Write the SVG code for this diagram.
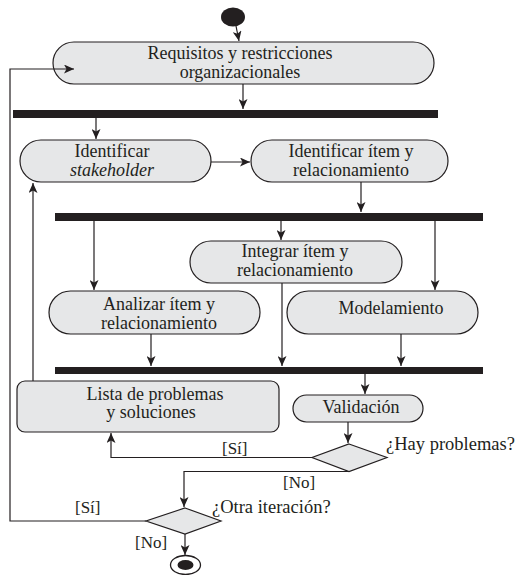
<svg xmlns="http://www.w3.org/2000/svg" width="517" height="575" viewBox="0 0 517 575">
<defs>
<marker id="ah" markerWidth="11" markerHeight="9" refX="10" refY="4.5" orient="auto" markerUnits="userSpaceOnUse">
<path d="M0,0 L10,4.5 L0,9 L2.5,4.5 z" fill="#231f20"/>
</marker>
</defs>
<style>
.node{fill:#e6e7e8;stroke:#231f20;stroke-width:1.2}
.bar{fill:#231f20}
.t{font-family:"Liberation Serif","Times New Roman",serif;font-size:18px;fill:#231f20;text-anchor:middle}
.q{font-family:"Liberation Serif","Times New Roman",serif;font-size:18.5px;fill:#231f20}
.l{font-family:"Liberation Serif","Times New Roman",serif;font-size:17px;fill:#231f20}
.c{fill:none;stroke:#231f20;stroke-width:1.2;marker-end:url(#ah)}
</style>
<rect width="517" height="575" fill="#ffffff"/>
<g id="start"><ellipse cx="233" cy="17" rx="12" ry="9.5" fill="#231f20"/></g>
<g id="n1"><rect class="node" x="53" y="42" width="381" height="42" rx="21"/><text class="t" x="240" y="59">Requisitos y restricciones</text><text class="t" x="240" y="77.5">organizacionales</text></g>
<g id="bar1"><rect class="bar" x="13" y="110" width="425" height="8"/></g>
<g id="n2"><rect class="node" x="20" y="140" width="191" height="42" rx="21"/><text class="t" x="112" y="157">Identificar</text><text class="t" x="112" y="175.5" font-style="italic">stakeholder</text></g>
<g id="n3"><rect class="node" x="251" y="140" width="197" height="42" rx="21"/><text class="t" x="351" y="157">Identificar ítem y</text><text class="t" x="351" y="175.5">relacionamiento</text></g>
<g id="bar2"><rect class="bar" x="55" y="213" width="428" height="8"/></g>
<g id="n4"><rect class="node" x="190" y="241" width="212" height="42" rx="21"/><text class="t" x="295" y="257">Integrar ítem y</text><text class="t" x="295" y="275.5">relacionamiento</text></g>
<g id="n5"><rect class="node" x="49" y="291" width="211" height="43" rx="21.5"/><text class="t" x="159" y="310">Analizar ítem y</text><text class="t" x="159" y="328.5">relacionamiento</text></g>
<g id="n6"><rect class="node" x="287" y="291" width="191" height="43" rx="21.5"/><text class="t" x="391" y="314">Modelamiento</text></g>
<g id="bar3"><rect class="bar" x="55" y="367" width="428" height="7"/></g>
<g id="n7"><rect class="node" x="293" y="395" width="130" height="27" rx="13.5"/><text class="t" x="361" y="413">Validación</text></g>
<g id="n8"><rect class="node" x="17" y="381" width="262" height="51" rx="8"/><text class="t" x="155" y="399.5">Lista de problemas</text><text class="t" x="151" y="418">y soluciones</text></g>
<g id="d1"><polygon class="node" points="349,444 387,457.5 349,471.5 312,457.5"/><text class="q" x="386" y="450">¿Hay problemas?</text></g>
<g id="d2"><polygon class="node" points="185,508 221,521 185,534 146,521"/><text class="q" x="212" y="513">¿Otra iteración?</text></g>
<g id="end"><ellipse cx="185.5" cy="565" rx="15" ry="9.5" fill="#ffffff" stroke="#231f20" stroke-width="1.3"/><ellipse cx="185.5" cy="565" rx="8" ry="5" fill="#231f20"/></g>
<g id="connectors">
<line class="c" x1="236" y1="26" x2="239" y2="41"/>
<polyline class="c" points="146,521 10,521 10,69 74,69"/>
<line class="c" x1="243" y1="84" x2="243" y2="109"/>
<line class="c" x1="96" y1="118" x2="96" y2="139"/>
<line class="c" x1="211" y1="162" x2="250" y2="162"/>
<line class="c" x1="361" y1="182" x2="361" y2="212"/>
<line class="c" x1="94" y1="221" x2="94" y2="290"/>
<line class="c" x1="281" y1="221" x2="281" y2="240"/>
<line class="c" x1="435" y1="221" x2="435" y2="290"/>
<line class="c" x1="151" y1="334" x2="151" y2="366"/>
<line class="c" x1="282" y1="283" x2="282" y2="366"/>
<line class="c" x1="401" y1="334" x2="401" y2="366"/>
<line class="c" x1="365" y1="374" x2="365" y2="394"/>
<line class="c" x1="348" y1="422" x2="348" y2="443"/>
<polyline class="c" points="312,457.5 111,457.5 111,433"/>
<polyline class="c" points="349,471.5 184,471.5 184,507"/>
<line class="c" x1="185" y1="534" x2="185" y2="555"/>
<line class="c" x1="33" y1="381" x2="33" y2="183"/>
<text class="l" x="222" y="454">[Sí]</text>
<text class="l" x="283" y="488">[No]</text>
<text class="l" x="75" y="513">[Sí]</text>
<text class="l" x="135" y="548">[No]</text>
</g>
</svg>
